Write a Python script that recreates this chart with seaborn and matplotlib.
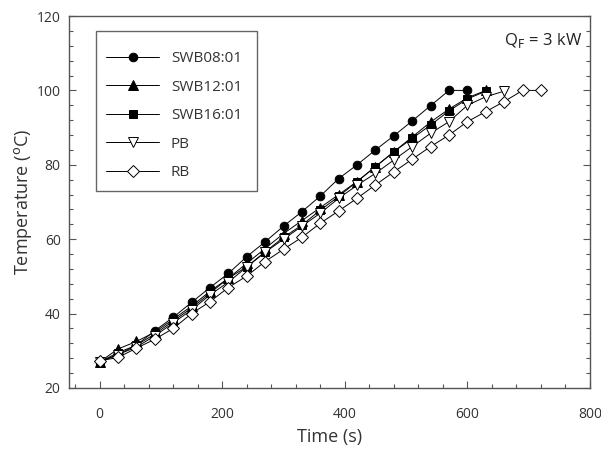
import numpy as np
import pandas as pd
import matplotlib
matplotlib.use("Agg")
import matplotlib.pyplot as plt
from matplotlib.patches import Rectangle
from matplotlib.ticker import MultipleLocator
import seaborn as sns

# values (time step 30 s)
swb08_temp = [27, 29, 31.5, 35.4, 39, 43, 47, 50.8, 55.3, 59.3, 63.5, 67.4, 71.6,
              76.3, 80, 84, 87.8, 91.8, 95.9, 100, 100]
swb12_temp = [27, 30.5, 32.5, 35, 38.5, 42, 46, 49.5, 53.5, 57.5, 61.5, 65, 68.5,
              72, 75.5, 79.5, 83.5, 87.5, 91.5, 95, 98, 100]
swb16_temp = [27, 29.5, 31.5, 34.5, 38, 41.5, 45.5, 49.5, 52.6, 56.6, 60.5, 63.8,
              67.8, 71.5, 75.5, 79.5, 83.5, 87.1, 90.7, 94.5, 97.7, 99.8]
pb_temp = [27, 29, 31, 34, 37.5, 41, 45, 48.5, 52.5, 56.5, 60, 63.5, 67, 71, 74.5,
           77.7, 81.3, 84.9, 88.5, 91.6, 96, 98.3, 99.8]
rb_temp = [27.3, 28.2, 30.7, 33.1, 36.0, 40.0, 43.2, 47.0, 50.1, 54, 57.3, 60.5,
           64.3, 67.6, 71.0, 74.6, 78.1, 81.5, 84.9, 88, 91.6, 94.3, 97, 100, 100]

series_names = ["SWB08:01", "SWB12:01", "SWB16:01", "PB", "RB"]
series_temps = [swb08_temp, swb12_temp, swb16_temp, pb_temp, rb_temp]
time_step = 30

rows = []
for name, temps in zip(series_names, series_temps):
    for i, t in enumerate(temps):
        rows.append({"Serie": name, "Time": i * time_step, "Temp": t})
df = pd.DataFrame(rows)

sns.set_style("ticks")
plt.rcParams["font.family"] = ["Open Sans", "DejaVu Sans"]

fig = plt.figure(figsize=(6.01, 4.55), dpi=100)
ax = fig.add_axes([0.1148, 0.1473, 0.8669, 0.8175])

marker_styles = {
    "SWB08:01": ("o", "black"),
    "SWB12:01": ("^", "black"),
    "SWB16:01": ("s", "black"),
    "PB": ("v", "white"),
    "RB": ("D", "white"),
}
sizes = {"o": 6.2, "^": 6.5, "s": 6.2, "v": 7, "D": 6}

for name in series_names:
    m, face = marker_styles[name]
    sub = df[df["Serie"] == name]
    sns.lineplot(data=sub, x="Time", y="Temp", ax=ax, color="black", lw=0.7,
                 marker=m, markersize=sizes[m], markerfacecolor=face,
                 markeredgecolor="black", markeredgewidth=0.7, label=name)

ax.set_xlim(-50, 800)
ax.set_ylim(20, 120)
ax.xaxis.set_major_locator(MultipleLocator(200))
ax.xaxis.set_minor_locator(MultipleLocator(40))
ax.yaxis.set_major_locator(MultipleLocator(20))
ax.yaxis.set_minor_locator(MultipleLocator(4))
ax.tick_params(which="both", direction="in", right=True, top=False,
               colors="#555555", labelcolor="#333333", labelsize=10, pad=14)
ax.tick_params(axis="y", pad=6)
ax.tick_params(which="major", length=5, width=0.8)
ax.tick_params(which="minor", length=3, width=0.8)
for sp in ax.spines.values():
    sp.set_color("#555555")
    sp.set_linewidth(1.0)

ax.set_xlabel("Time (s)", fontsize=13, color="#333333", labelpad=4)
ax.set_ylabel("Temperature ($^{\\rm o}$C)", fontsize=13, color="#333333", labelpad=2)

ax.text(0.985, 0.935, "Q$_{\\rm F}$ = 3 kW", transform=ax.transAxes,
        ha="right", va="center", fontsize=12, color="#222222")

# legend drawn without its own frame, box added separately
leg = ax.legend(loc="upper left", bbox_to_anchor=(0.071, 0.905), frameon=False,
                fontsize=11, handlelength=3.5, labelspacing=0.88,
                borderpad=0, handletextpad=0.75, borderaxespad=0)
for t in leg.get_texts():
    t.set_color("#333333")
ax.add_patch(Rectangle((0.0518, 0.5296), 0.309, 0.4301, transform=ax.transAxes,
                       fill=False, edgecolor="#666666", lw=1.0, zorder=5))

fig.savefig("out.png", dpi=100)
